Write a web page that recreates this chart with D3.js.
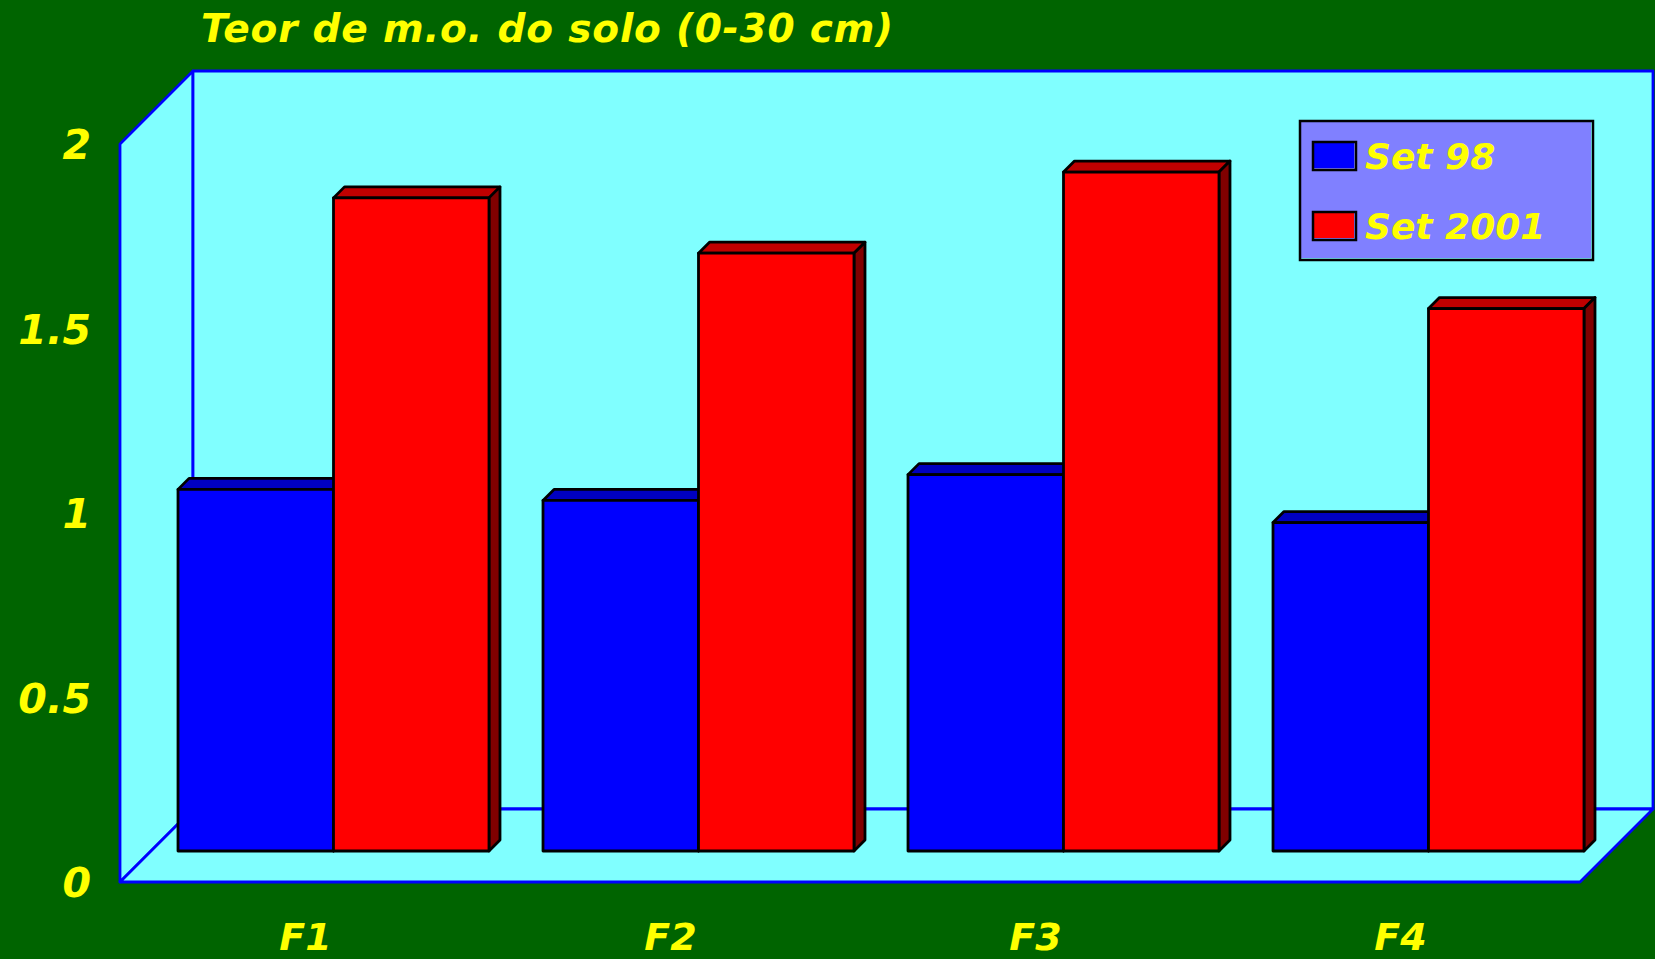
<!DOCTYPE html>
<html>
<head>
<meta charset="utf-8">
<script src="https://cdn.jsdelivr.net/npm/d3@7"></script>
<style>
  html, body { margin: 0; padding: 0; background: #006400; overflow: hidden; }
  text { font-family: "Comic Sans MS", "DejaVu Sans", sans-serif; font-weight: bold; font-style: italic; fill: #ffff00; }
</style>
</head>
<body>
<svg id="chart" style="display:block"></svg>
<script>
var categories = ['F1', 'F2', 'F3', 'F4'],
    set98 = [0.98, 0.95, 1.02, 0.89],
    set2001 = [1.77, 1.62, 1.84, 1.47],
    yTicks = [0, 0.5, 1, 1.5, 2],
    seriesNames = ['Set 98', 'Set 2001'],
    titleText = 'Teor de m.o. do solo (0-30 cm)';

var width = 1655,
    height = 959,
    depth = 73,       // wall depth
    barInset = 31,    // how far back the bars stand on the floor
    barDepth = 11;

var colors = [
  {front: '#0000ff', top: '#0000c0', side: '#000080'},
  {front: '#ff0000', top: '#c00000', side: '#800000'}
];

var svg = d3.select('#chart').attr('width', width).attr('height', height);

var x = d3.scaleBand().domain(categories).range([120, 1580]).paddingInner(0.148).paddingOuter(0.074),
    xSeries = d3.scaleBand().domain([0, 1]).range([0, x.bandwidth()]),
    y = d3.scaleLinear().domain([0, 2]).range([882, 144]);

svg.append('rect').attr('width', width).attr('height', height).attr('fill', '#006400');

// walls
var xL = x.range()[0], xR = x.range()[1], yB = y(0), yT = y(2);
var walls = [
  [[xL, yT], [xL + depth, yT - depth], [xL + depth, yB - depth], [xL, yB]],
  [[xL + depth, yT - depth], [xR + depth, yT - depth], [xR + depth, yB - depth], [xL + depth, yB - depth]],
  [[xL, yB], [xL + depth, yB - depth], [xR + depth, yB - depth], [xR, yB]]
];
svg.append('g').selectAll('polygon')
  .data(walls)
  .enter().append('polygon')
  .attr('points', d => d.join(' '))
  .attr('fill', '#80ffff')
  .attr('stroke', '#0000ff')
  .attr('stroke-width', 2.8)
  .attr('stroke-linejoin', 'round');

// bars
var rows = [];
categories.forEach((c, i) => {
  [set98[i], set2001[i]].forEach((v, s) => rows.push({cat: c, s: s, v: v}));
});

var bars = svg.append('g')
  .selectAll('g')
  .data(rows)
  .enter().append('g')
  .attr('transform', d => 'translate(' + (x(d.cat) + barInset + xSeries(d.s)) + ',' + (y(d.v) - barInset) + ')')
  .attr('stroke', '#000')
  .attr('stroke-width', 2.8)
  .attr('stroke-linejoin', 'round');

var w = xSeries.bandwidth();
bars.append('polygon')
  .attr('points', [[0, 0], [barDepth, -barDepth], [w + barDepth, -barDepth], [w, 0]].join(' '))
  .attr('fill', d => colors[d.s].top);
bars.append('polygon')
  .attr('points', d => {
    var h = y(0) - y(d.v);
    return [[w, 0], [w + barDepth, -barDepth], [w + barDepth, h - barDepth], [w, h]].join(' ');
  })
  .attr('fill', d => colors[d.s].side);
bars.append('rect')
  .attr('width', w)
  .attr('height', d => y(0) - y(d.v))
  .attr('fill', d => colors[d.s].front);

// axes
var yAxis = svg.append('g')
  .attr('transform', 'translate(91,0)')
  .call(d3.axisLeft(y).tickValues(yTicks).tickFormat(String).tickSize(0).tickPadding(0));
yAxis.select('.domain').remove();
yAxis.attr('font-family', null).attr('font-size', null);
yAxis.selectAll('text').attr('font-size', 41).attr('dy', '0.36em');

var xAxis = svg.append('g')
  .attr('transform', 'translate(3,' + yB + ')')
  .call(d3.axisBottom(x).tickSize(0).tickPadding(0));
xAxis.select('.domain').remove();
xAxis.attr('font-family', null).attr('font-size', null);
xAxis.selectAll('text').attr('font-size', 38).attr('dy', null).attr('y', 68);

// title
svg.append('text')
  .attr('x', 201)
  .attr('y', 42)
  .attr('font-size', 39)
  .attr('textLength', 692)
  .attr('lengthAdjust', 'spacing')
  .text(titleText);

// legend
var legend = svg.append('g').attr('transform', 'translate(1300,121)');
legend.append('rect').attr('width', 291).attr('height', 137).attr('fill', '#8080ff');
legend.append('rect').attr('width', 293).attr('height', 139).attr('fill', 'none').attr('stroke', '#000').attr('stroke-width', 2.5);

var item = legend.selectAll('.item')
  .data(seriesNames)
  .enter().append('g')
  .attr('class', 'item')
  .attr('transform', (d, i) => 'translate(13,' + (21 + i * 70) + ')');
item.append('rect').attr('width', 41).attr('height', 26).attr('fill', (d, i) => colors[i].front);
item.append('rect').attr('width', 43).attr('height', 28).attr('fill', 'none').attr('stroke', '#000').attr('stroke-width', 2.5);
item.append('text')
  .attr('x', 52)
  .attr('y', 27)
  .attr('font-size', 36)
  .text(d => d);
</script>
</body>
</html>
